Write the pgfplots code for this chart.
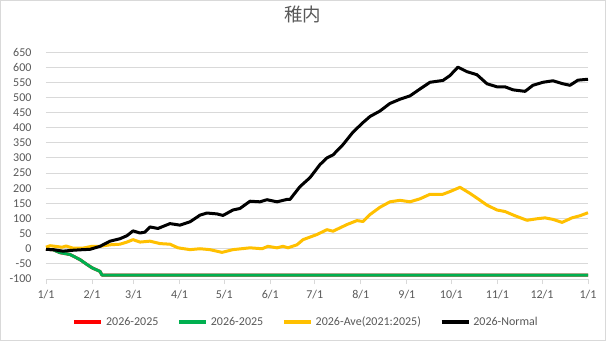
\documentclass[border=0pt]{standalone}
\usepackage{fontspec}
\setmainfont{Carlito}
\newfontfamily\cjk{Noto Sans CJK JP}
\usepackage{pgfplots}
\pgfplotsset{compat=1.18}
\definecolor{txt}{HTML}{595959}
\definecolor{grd}{HTML}{D9D9D9}
\definecolor{cred}{HTML}{FF0000}
\definecolor{cgreen}{HTML}{00B050}
\definecolor{cyellow}{HTML}{FFC000}
\begin{document}
\begin{tikzpicture}
\draw[grd, fill=white, line width=1pt] (0.5pt,0.5pt) rectangle (605.5pt,340.5pt);
\begin{axis}[at={(46pt,62pt)}, anchor=south west, scale only axis,
  width=542pt, height=227pt,
  xmin=0, xmax=365, ymin=-100, ymax=650, clip=false,
  xtick={0,31,59,90,120,151,181,212,243,273,304,334,365},
  xticklabels={1/1,2/1,3/1,4/1,5/1,6/1,7/1,8/1,9/1,10/1,11/1,12/1,1/1},
  ytick={-100,-50,0,50,100,150,200,250,300,350,400,450,500,550,600,650},
  yticklabels={-100,-50,0,50,100,150,200,250,300,350,400,450,500,550,600,650},
  ymajorgrids, grid style={grd, line width=0.9pt},
  axis line style={draw=none},
  xtick pos=bottom, ytick pos=left,
  tick align=outside, major tick length=5pt,
  xtick style={grd, line width=0.9pt},
  ytick style={draw=none},
  tick label style={font=\fontsize{12}{14}\selectfont, text=txt},
  yticklabel style={xshift=-6pt},
  xticklabel style={yshift=-3pt},
  title={\cjk 稚内},
  title style={at={(0.474,1.141)}, anchor=center, font=\fontsize{18.5}{20}\selectfont, text=txt},
  legend columns=-1,
  legend style={draw=none, fill=none, at={(0.48,-0.189)}, anchor=center,
    font=\fontsize{12}{14}\selectfont, text=txt,
    /tikz/every even column/.append style={column sep=17pt},
    /tikz/every odd column/.append style={column sep=1pt}},
  legend image code/.code={\draw[#1, line width=3.5pt] (0pt,0pt) -- (27pt,0pt);},
  every axis plot/.append style={line width=3pt, line join=round, no marks},
]
\addplot[cred] coordinates {
(0,-2) (4.7,-3) (9.4,-13) (16.2,-19) (22.9,-36) (27.6,-52) (31,-63) (36.4,-75) (37.7,-87) (365,-87)
};
\addlegendentry{2026-2025}
\addplot[cgreen] coordinates {
(0,-2) (4.7,-3) (9.4,-13) (16.2,-19) (22.9,-36) (27.6,-52) (31,-63) (36.4,-75) (37.7,-87) (365,-87)
};
\addlegendentry{2026-2025}
\addplot[cyellow] coordinates {
(0,5) (2.7,10) (6.1,8) (10.8,5) (13.5,9) (18.2,2) (24.9,2) (31,8) (36.4,8) (43.1,13)
(49.8,15) (54.5,22) (58.6,30) (63.3,22) (70,25) (76.8,17) (83.5,15) (88.9,3) (97,-3)
(103.7,0) (110.4,-3) (118.5,-12) (125.9,-3) (137.4,3) (145.5,0) (149.5,8) (155.6,3)
(159.6,8) (163,3) (169,13) (173.1,30) (182.5,47) (189.2,63) (193.3,58) (202.7,80)
(209.4,93) (213.5,90) (218.2,113) (224.9,137) (231.6,155) (238.4,160) (245.1,155)
(251.9,165) (258.6,180) (267.3,180) (272.1,189) (278.8,203) (285.5,183) (290.9,165)
(297,144) (303.7,128) (309.1,123) (315.8,109) (323.9,94) (330.6,99) (336,102)
(341.4,97) (347.5,87) (354.2,102) (359.6,109) (365,119)
};
\addlegendentry{2026-Ave(2021:2025)}
\addplot[black] coordinates {
(0,-2) (4.7,-3) (11.4,-8) (18.2,-5) (24.9,-3) (29.6,-2) (36.4,8) (43.1,25) (49.8,33)
(54.5,43) (58.6,59) (63.3,52) (66.7,55) (70,72) (75.4,67) (83.5,83) (90.2,78) (97,89)
(103.7,111) (108.4,118) (115.2,115) (119.2,110) (125.9,128) (130.6,133) (137.4,157)
(144.1,155) (148.8,162) (155.6,155) (162.3,163) (164.3,163) (171,205) (177.8,235)
(184.5,278) (189.2,300) (193.3,310) (200,344) (206.7,385) (213.5,417) (218.2,437)
(224.9,455) (231.6,480) (238.4,494) (245.1,505) (251.9,528) (258.6,550) (267.3,556)
(272,572) (277.4,600) (283.5,585) (290.2,575) (297,545) (303.7,535) (309.1,535)
(314.5,525) (322.6,520) (327.9,540) (334.7,550) (341.4,555) (348.1,545) (352.9,540)
(358.2,557) (365,560)
};
\addlegendentry{2026-Normal}
\end{axis}
\end{tikzpicture}
\end{document}
